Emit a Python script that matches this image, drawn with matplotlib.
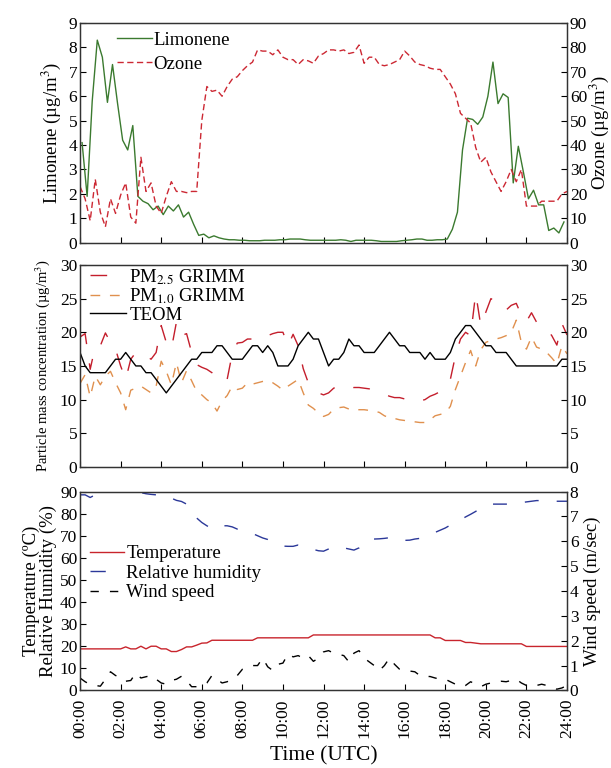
import numpy as np
import matplotlib
matplotlib.use("Agg")
import matplotlib.pyplot as plt
from matplotlib.lines import Line2D

plt.rcParams['font.family'] = ['Liberation Serif', 'DejaVu Serif']
plt.rcParams['mathtext.fontset'] = 'stix'

# time axis, 15 minute steps (hours UTC)
t = np.arange(97) * 0.25
t_lim = np.arange(96) * 0.25 + 0.1

limonene = [4.1, 1.9, 5.8, 8.3, 7.6, 5.75, 7.3, 5.7,
            4.2, 3.8, 4.8, 1.9, 1.7, 1.6, 1.35, 1.5,
            1.15, 1.5, 1.3, 1.55, 1.05, 1.25, 0.75, 0.3,
            0.35, 0.2, 0.28, 0.2, 0.15, 0.12, 0.12, 0.1,
            0.1, 0.08, 0.08, 0.08, 0.1, 0.1, 0.1, 0.12,
            0.12, 0.15, 0.15, 0.15, 0.12, 0.1, 0.1, 0.1,
            0.1, 0.1, 0.1, 0.12, 0.1, 0.05, 0.1, 0.1,
            0.1, 0.1, 0.08, 0.05, 0.05, 0.05, 0.05, 0.08,
            0.1, 0.12, 0.15, 0.15, 0.1, 0.1, 0.12, 0.12,
            0.15, 0.55, 1.25, 3.8, 5.1, 5.05, 4.85, 5.15,
            6.0, 7.4, 5.7, 6.1, 5.95, 2.45, 3.95, 2.9,
            1.8, 2.15, 1.55, 1.55, 0.5, 0.6, 0.4, 0.85]

ozone = [23, 18, 9, 26, 12.5, 6.5, 18, 12,
         19.5, 24.5, 10.5, 8, 35, 21, 24.5, 15,
         12, 19, 25, 21, 21, 20.5, 21, 21,
         50, 64, 62, 62.5, 60, 64, 67, 68,
         70.5, 72.5, 74, 79, 78.5, 78.5, 77, 79,
         76, 75, 75, 73, 75, 74.5, 73.5, 76.5,
         77.5, 79, 79, 78.5, 79, 77.5, 78, 81,
         73.5, 76, 76, 73, 72.5, 73, 74, 75,
         78.5, 76.5, 74, 73, 72.5, 71.5, 71, 71,
         68, 65, 61, 53, 51, 49, 39, 33,
         35, 29, 25, 21, 25, 30, 25, 30,
         15, 15, 15, 17, 17, 17, 17, 20,
         21]

pm25 = [19.3, 19.8, 14.5, 17.9, 18, 19.9, 18.5, 17.5,
        15, 13, 16, 17, 17, 16.5, 16, 17,
        21, 18.5, 17.5, 21.5, 19.5, 19.8, 17, 15.2,
        14.8, 14.5, 14, 13.3, 13.7, 13, 16.8, 18.4,
        18.5, 19, 19, 19.5, 19.5, 19.5, 19.8, 20,
        20, 18, 19.7, 18, 14.6, 12.5, 11.5, 11,
        10.7, 11, 11.7, 12, 11.8, 11.6, 11.8, 11.8,
        11.7, 11.6, 11.3, 11, 10.8, 10.5, 10.3, 10.3,
        10.1, 9.8, 9.7, 9.8, 10, 10.5, 10.8, 11.2,
        11.7, 13, 16.5, 19, 20, 19.5, 25.8, 21,
        23, 25, 24.5, 24.3, 23.3, 24, 24.3, 22.5,
        21.6, 22.9, 21.5, 21, 20.5, 19.5, 18.1, 21.3,
        19.6]

pm10 = [12.4, 13.7, 10.4, 13.5, 12.2, 13.5, 14.2, 12.5,
        11, 8.5, 11.4, 11.7, 12, 11.5, 11, 12,
        15.7, 14.2, 12.2, 15.5, 12.5, 14.3, 12.8, 11.2,
        10.7, 10, 9.5, 8.3, 9.8, 10.6, 12, 11.5,
        11.7, 12.5, 12.3, 12.5, 12.7, 12.8, 12.5, 12,
        11.4, 12, 12.5, 13, 11, 9.2, 8.7, 8,
        7.5, 7.8, 8.6, 8.8, 8.9, 8.6, 8.4, 8.5,
        8.5, 8.4, 8.3, 8.1, 7.6, 7.3, 7.2, 7,
        6.9, 6.8, 6.7, 6.6, 6.6, 7, 7.6, 7.8,
        8, 9, 11.5, 13.5, 15.5, 17.3, 15, 17.4,
        18.5, 18.8, 19, 19.2, 19.5, 20, 21.8, 18.5,
        17.5, 19.3, 17.8, 17.5, 17, 16.2, 15.3, 18,
        16.8]

teom = [17, 15, 14, 14, 14, 14, 15, 16,
        16, 17, 16, 15, 15, 14, 14, 13,
        12, 11, 12, 13, 14, 15, 16, 16,
        17, 17, 17, 18, 18, 17, 16, 16,
        16, 17, 18, 18, 17, 18, 17, 15,
        15, 15, 16, 18, 19, 20, 19, 19,
        17, 15, 16, 16, 17, 19, 18, 18,
        17, 17, 17, 18, 19, 20, 19, 18,
        18, 17, 17, 17, 16, 17, 16, 16,
        16, 17, 19, 20, 21, 21, 20, 19,
        18, 18, 17, 17, 17, 16, 15, 15,
        15, 15, 15, 15, 15, 15, 15, 16,
        16]

temperature = [18.8, 18.8, 18.8, 18.8, 18.8, 18.8, 18.8, 18.8,
               18.8, 19.7, 18.8, 18.8, 20, 18.8, 20, 20,
               18.8, 18.8, 17.6, 17.6, 18.5, 19.7, 19.7, 20.5,
               21.4, 21.5, 22.7, 22.7, 22.7, 22.7, 22.7, 22.7,
               22.7, 22.7, 22.7, 23.8, 23.8, 23.8, 23.8, 23.8,
               23.8, 23.8, 23.8, 23.8, 23.8, 23.8, 25.1, 25.1,
               25.1, 25.1, 25.1, 25.1, 25.1, 25.1, 25.1, 25.1,
               25.1, 25.1, 25.1, 25.1, 25.1, 25.1, 25.1, 25.1,
               25.1, 25.1, 25.1, 25.1, 25.1, 25.1, 23.8, 23.8,
               22.6, 22.6, 22.6, 22.6, 21.7, 21.7, 21.4, 21.1,
               21.1, 21.1, 21.1, 21.1, 21.1, 21.1, 21.1, 21.1,
               19.9, 19.9, 19.9, 19.9, 19.9, 19.9, 19.9, 19.9,
               19.9]

humidity = [88.5, 88.5, 87.3, 88.5, 89, 89.5, 90, 90,
            90, 90, 90, 89.8, 89.5, 89, 88.7, 88.5,
            88.5, 87.3, 87, 86, 85.5, 84.3, 81.5, 78,
            76, 74.5, 73.2, 73, 74.5, 74.5, 74, 73,
            72.5, 71.7, 71, 70, 69, 68.3, 67, 66,
            65.3, 65.2, 65.2, 65.8, 65.5, 64.5, 63.8, 63.2,
            63, 64, 65, 65.2, 64.5, 64, 63.5, 64.5,
            67, 68.4, 68.5, 68.6, 68.8, 69.1, 69.3, 68.8,
            67.9, 68, 68.5, 68.8, 69.5, 70.5, 71.5, 72.5,
            73.5, 74.8, 76, 77.2, 78.5, 79.7, 81, 82.5,
            83.5, 84.3, 84.3, 84.3, 84.3, 84.5, 84.8, 85,
            85.3, 85.6, 85.9, 85.9, 85.8, 85.7, 85.6, 85.6,
            85.6]

wind = [0.5, 0.35, 0.24, 0.2, 0.17, 0.45, 0.75, 0.6,
        0.53, 0.37, 0.4, 0.7, 0.5, 0.55, 0.6, 0.45,
        0.3, 0.25, 0.4, 0.45, 0.57, 0.4, 0.15, 0.15,
        0.2, 0.3, 0.6, 0.45, 0.3, 0.35, 0.45, 0.6,
        0.85, 0.9, 1.0, 1.0, 1.3, 0.95, 0.8, 1.05,
        1.1, 1.47, 1.35, 1.4, 1.3, 1.4, 1.17, 1.3,
        1.55, 1.6, 1.5, 1.45, 1.4, 1.15, 1.5, 1.6,
        1.3, 1.15, 1.0, 0.8, 1.0, 1.3, 1.05, 0.85,
        0.78, 0.78, 0.75, 0.6, 0.56, 0.56, 0.5, 0.45,
        0.45, 0.35, 0.25, 0.15, 0.2, 0.35, 0.25, 0.15,
        0.25, 0.3, 0.35, 0.37, 0.35, 0.4, 0.45, 0.3,
        0.2, 0.17, 0.2, 0.25, 0.2, 0.1, 0.05, 0.1,
        0.2]

hour_ticks = list(range(0, 25, 2))
hour_labels = ["%02d:00" % h for h in hour_ticks]

fig = plt.figure(figsize=(6.11, 7.68), dpi=100)
L, W = 0.131, 0.797
ax1 = fig.add_axes([L, 0.684, W, 0.286])
ax2 = fig.add_axes([L, 0.392, W, 0.263])
ax3 = fig.add_axes([L, 0.101, W, 0.259])

fs = 12.5
lfs = 13.5

pm25_dash = (0, (12, 14))
pm10_dash = (0, (7, 7))
rh_dash = (0, (10, 13))
wind_dash = (0, (6, 8))


def style(ax, right):
    ax.set_xlim(0, 24)
    ax.set_xticks(hour_ticks)
    ax.tick_params(direction='in', length=4, labelsize=fs, pad=2)
    ax.tick_params(axis='x', top=False, pad=6)
    right.tick_params(direction='in', length=4, labelsize=fs, pad=2)
    for a in (ax, right):
        for s in a.spines.values():
            s.set_linewidth(0.9)
            s.set_color('#333333')


# panel 1: limonene / ozone
ax1r = ax1.twinx()
l1, = ax1.plot(t_lim, limonene, color='#3b7a2f', lw=1.0, label='Limonene')
l2, = ax1r.plot(t, ozone, color='#cc2833', lw=1.0, ls=(0, (4.5, 2.5)), label='Ozone')
ax1.set_ylim(0, 9)
ax1.set_yticks(range(0, 10))
ax1r.set_ylim(0, 90)
ax1r.set_yticks(range(0, 91, 10))
ax1.set_xticklabels([])
ax1.set_ylabel('Limonene (µg/m$^3$)', fontsize=lfs, labelpad=4)
ax1r.set_ylabel('Ozone (µg/m$^3$)', fontsize=lfs, labelpad=0)
style(ax1, ax1r)
ax1r.legend([l1, l2], ['Limonene', 'Ozone'], loc='upper left', bbox_to_anchor=(0.076, 0.96),
            frameon=False, fontsize=lfs, handlelength=1.85, handletextpad=0.1,
            labelspacing=0.35, borderpad=0, borderaxespad=0)

# panel 2: particle mass
ax2r = ax2.twinx()
ax2.plot(t, pm25, color='#c41e2c', lw=1.0, ls=pm25_dash)
ax2.plot(t, pm10, color='#e0904e', lw=1.0, ls=pm10_dash)
ax2.plot(t, teom, color='black', lw=1.0)
ax2.set_ylim(0, 30)
ax2.set_yticks(range(0, 31, 5))
ax2r.set_ylim(0, 30)
ax2r.set_yticks(range(0, 31, 5))
ax2.set_xticklabels([])
ax2.set_ylabel('Particle mass concentration (µg/m$^3$)', fontsize=fs - 2, labelpad=6)
style(ax2, ax2r)
h_pm = [Line2D([], [], color='#c41e2c', lw=1.0, ls=pm25_dash),
        Line2D([], [], color='#e0904e', lw=1.0, ls=pm10_dash),
        Line2D([], [], color='black', lw=1.0)]
ax2.legend(h_pm, ['PM$_{2.5}$ GRIMM', 'PM$_{1.0}$ GRIMM', 'TEOM'], loc='upper left',
           bbox_to_anchor=(0.02, 0.99), frameon=False, fontsize=lfs, handlelength=1.95,
           handletextpad=0.15, labelspacing=0.0, borderpad=0, borderaxespad=0)

# panel 3: meteorology
ax3r = ax3.twinx()
m1, = ax3.plot(t, temperature, color='#c8242c', lw=1.0)
ax3.plot(t, humidity, color='#2b3899', lw=1.0, ls=rh_dash)
m3, = ax3r.plot(t, wind, color='black', lw=1.0, ls=wind_dash)
ax3.set_ylim(0, 90)
ax3.set_yticks(range(0, 91, 10))
ax3r.set_ylim(0, 8)
ax3r.set_yticks(range(0, 9))
ax3.set_xticklabels(hour_labels, rotation=90, fontsize=fs)
ax3.set_ylabel('Temperature (ºC)\nRelative Humidity (%)', fontsize=lfs, labelpad=2,
               linespacing=1.0)
ax3r.set_ylabel('Wind speed (m/sec)', fontsize=lfs, labelpad=4)
ax3.set_xlabel('Time (UTC)', fontsize=fs + 3, labelpad=6)
style(ax3, ax3r)
m2 = Line2D([], [], color='#2b3899', lw=1.0, ls=(0, (11, 20)))
ax3r.legend([m1, m2, m3], ['Temperature', 'Relative humidity', 'Wind speed'], loc='upper left',
            bbox_to_anchor=(0.02, 0.73), frameon=False, fontsize=lfs, handlelength=1.85,
            handletextpad=0.1, labelspacing=0.12, borderpad=0, borderaxespad=0)

fig.savefig('out.png', dpi=100)
